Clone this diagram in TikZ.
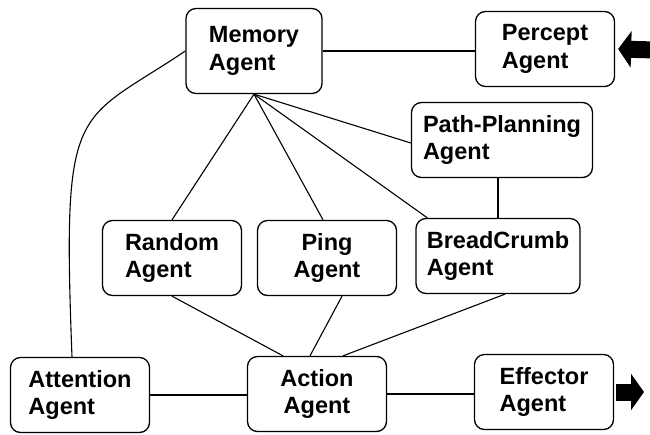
\documentclass[tikz,border=0pt]{standalone}
\usepackage{fontspec}
\setmainfont{Liberation Sans}
\usetikzlibrary{arrows.meta}
\begin{document}
\begin{tikzpicture}[x=1pt,y=-1pt,
    agent/.style={draw,rounded corners=10pt,line width=1.3pt,minimum width=139pt,minimum height=75pt,
      align=left,font=\fontsize{23.5}{27.5}\selectfont\bfseries},
    link/.style={line width=1.1pt},
    fat/.style={line width=17pt,-{Triangle[length=13pt,width=36pt]}}]
  \useasboundingbox (0,0) rectangle (650,434);
  % agents
  \node[agent,minimum width=136pt,minimum height=85pt] (mem) at (254,51) {Memory\\Agent};
  \node[agent] (per) at (545,49) {Percept\\Agent};
  \node[agent,minimum width=181pt] (pp) at (502,140) {Path-Planning\\Agent};
  \node[agent,minimum width=164pt] (bc) at (498,256) {BreadCrumb\\Agent};
  \node[agent] (rnd) at (172,258) {Random\\Agent};
  \node[agent,align=center] (ping) at (327,258) {Ping\\Agent};
  \node[agent] (att) at (80,395) {Attention\\Agent};
  \node[agent,align=center] (act) at (317,394) {Action\\Agent};
  \node[agent] (eff) at (544,392) {Effector\\Agent};
  % links
  \draw[link] (mem.east) -- (mem.east -| per.west);
  \draw[link] (mem.south) -- (rnd.north);
  \draw[link] (mem.south) -- ([xshift=-4pt]ping.north);
  \draw[link] (mem.south) -- ([xshift=12pt]bc.north west);
  \draw[link] (mem.south) -- ([yshift=-3pt]pp.west);
  \draw[link] (bc.north) -- (bc.north |- pp.south);
  \draw[link] (rnd.south) -- ([xshift=-34pt]act.north);
  \draw[link] ([xshift=15pt]ping.south) -- ([xshift=-7pt]act.north);
  \draw[link] ([xshift=7pt]bc.south) -- ([xshift=26pt]act.north);
  \draw[link] (att.east) -- (att.east -| act.west);
  \draw[link] (act.east) -- (act.east -| eff.west);
  \draw[link] (mem.west) .. controls (75,125) and (62,98) .. ([xshift=-8pt]att.north);
  % in and out
  \coordinate (in) at (655,50);
  \coordinate (out) at (644,392);
  \draw[fat] (in) -- ([xshift=3pt]per.east);
  \draw[fat] ([xshift=2pt]eff.east) -- (out);
\end{tikzpicture}
\end{document}
